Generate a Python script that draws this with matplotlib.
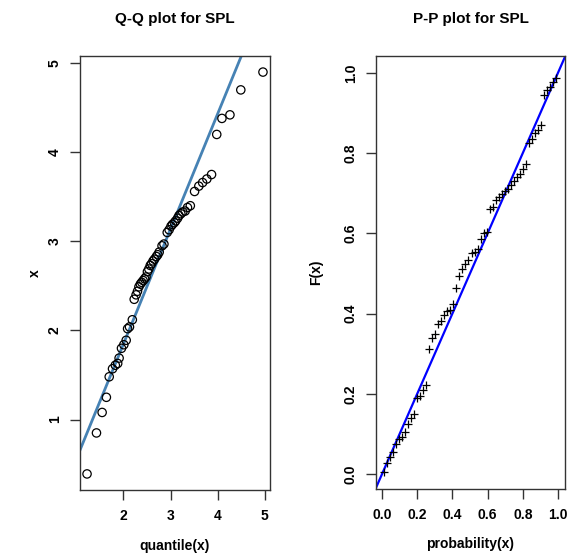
import matplotlib
matplotlib.use("Agg")
import matplotlib.pyplot as plt
import numpy as np

plt.rcParams['font.family'] = ['Liberation Sans', 'DejaVu Sans']
plt.rcParams['font.weight'] = 'bold'

# Q-Q plot: theoretical quantiles vs sorted sample
qq_theory = [1.23, 1.43, 1.55, 1.64, 1.70, 1.77, 1.83, 1.88, 1.91, 1.96,
             2.01, 2.06, 2.09, 2.13, 2.19,
             2.23, 2.27, 2.30, 2.33, 2.36, 2.39, 2.42, 2.45, 2.48, 2.51,
             2.54, 2.57, 2.60, 2.63, 2.66, 2.70, 2.73, 2.76, 2.82, 2.86,
             2.93, 2.97, 3.01, 3.04, 3.08, 3.11, 3.15, 3.18, 3.22, 3.26,
             3.31, 3.36, 3.42,
             3.51, 3.60, 3.68, 3.77, 3.87,
             3.98, 4.09, 4.26, 4.49, 4.96]
qq_sample = [0.39, 0.85, 1.08, 1.25, 1.48, 1.57, 1.61, 1.63, 1.69, 1.80,
             1.84, 1.89, 2.02, 2.04, 2.12,
             2.35, 2.40, 2.44, 2.49, 2.52, 2.54, 2.56, 2.58, 2.60, 2.66,
             2.69, 2.73, 2.75, 2.78, 2.80, 2.83, 2.85, 2.88, 2.95, 2.97,
             3.10, 3.13, 3.17, 3.19, 3.21, 3.23, 3.26, 3.29, 3.31, 3.33,
             3.34, 3.38, 3.40,
             3.56, 3.62, 3.66, 3.70, 3.75,
             4.20, 4.38, 4.42, 4.70, 4.90]
qq_line_intercept = -0.74
qq_line_slope = 1.293

# P-P plot: plotting positions vs fitted cdf
pp_prob = [0.009, 0.026, 0.043, 0.060, 0.078, 0.095, 0.112, 0.129, 0.147, 0.164,
           0.181, 0.198, 0.216, 0.233, 0.250, 0.267, 0.284, 0.302, 0.319, 0.336,
           0.353, 0.371, 0.388, 0.405, 0.422, 0.440, 0.457, 0.474, 0.491, 0.509,
           0.526, 0.543, 0.560, 0.578, 0.595, 0.612, 0.629, 0.647, 0.664, 0.681,
           0.698, 0.716, 0.733, 0.750, 0.767, 0.784, 0.802, 0.819, 0.836, 0.853,
           0.871, 0.888, 0.905, 0.922, 0.940, 0.957, 0.974, 0.991]
pp_cdf = [0.006, 0.028, 0.042, 0.054, 0.076, 0.087, 0.093, 0.105, 0.126, 0.139,
          0.149, 0.189, 0.195, 0.210, 0.222,
          0.313, 0.340, 0.350, 0.373, 0.382, 0.396, 0.407, 0.408, 0.425, 0.464,
          0.494, 0.510, 0.523, 0.533, 0.551, 0.554, 0.562, 0.587, 0.600, 0.603,
          0.660, 0.666, 0.682, 0.690, 0.697, 0.705, 0.711, 0.720, 0.730, 0.740,
          0.747, 0.760, 0.772,
          0.824, 0.834, 0.850, 0.857, 0.869,
          0.944, 0.958, 0.965, 0.977, 0.986]

qq_xticks = [2, 3, 4, 5]
qq_yticks = [1, 2, 3, 4, 5]
pp_ticks = [0.0, 0.2, 0.4, 0.6, 0.8, 1.0]


def r_limits(vals):
    lo, hi = min(vals), max(vals)
    pad = 0.04 * (hi - lo)
    return lo - pad, hi + pad


def r_style(ax):
    for s in ax.spines.values():
        s.set_linewidth(1.0)
        s.set_color('#333333')
    ax.tick_params(length=7, width=1.0, color='#333333', labelsize=10)
    ax.tick_params(axis='x', pad=7)
    ax.tick_params(axis='y', pad=6, labelrotation=90)
    for lab in ax.get_yticklabels():
        lab.set_va('center')


fig = plt.figure(figsize=(5.73, 5.58), dpi=100)
ax1 = fig.add_axes([80 / 573, 68 / 558, 190 / 573, 434 / 558])
ax2 = fig.add_axes([376 / 573, 69 / 558, 189 / 573, 433 / 558])

# left: Q-Q
ax1.scatter(qq_theory, qq_sample, s=36, facecolors='none', edgecolors='black',
            linewidths=0.9, zorder=3)
ax1.set_xlim(r_limits(qq_theory))
ax1.set_ylim(r_limits(qq_sample))
ax1.axline((0, qq_line_intercept), slope=qq_line_slope, color='#4682B4', lw=2.0, zorder=2)
ax1.set_xticks(qq_xticks)
ax1.set_yticks(qq_yticks)
ax1.set_title('Q-Q plot for SPL', fontsize=11, fontweight='bold', pad=24)
ax1.set_xlabel('quantile(x)', fontsize=10, fontweight='bold')
ax1.set_ylabel('x', fontsize=10, fontweight='bold')
ax1.xaxis.set_label_coords(0.5, -0.112)
ax1.yaxis.set_label_coords(-0.200, 0.5)
r_style(ax1)

# right: P-P
ax2.scatter(pp_prob, pp_cdf, s=40, marker='+', color='black', linewidths=0.9, zorder=3)
ax2.set_xlim(-0.034, 1.040)
ax2.set_ylim(-0.037, 1.042)
ax2.axline((0, 0), slope=1, color='blue', lw=1.6, zorder=2)
ax2.set_xticks(pp_ticks)
ax2.set_yticks(pp_ticks)
ax2.set_xticklabels(['%.1f' % t for t in pp_ticks])
ax2.set_yticklabels(['%.1f' % t for t in pp_ticks])
ax2.set_title('P-P plot for SPL', fontsize=11, fontweight='bold', pad=24)
ax2.set_xlabel('probability(x)', fontsize=10, fontweight='bold')
ax2.set_ylabel('F(x)', fontsize=10, fontweight='bold')
ax2.xaxis.set_label_coords(0.5, -0.112)
ax2.yaxis.set_label_coords(-0.280, 0.5)
r_style(ax2)

fig.savefig('out.png', dpi=100)
